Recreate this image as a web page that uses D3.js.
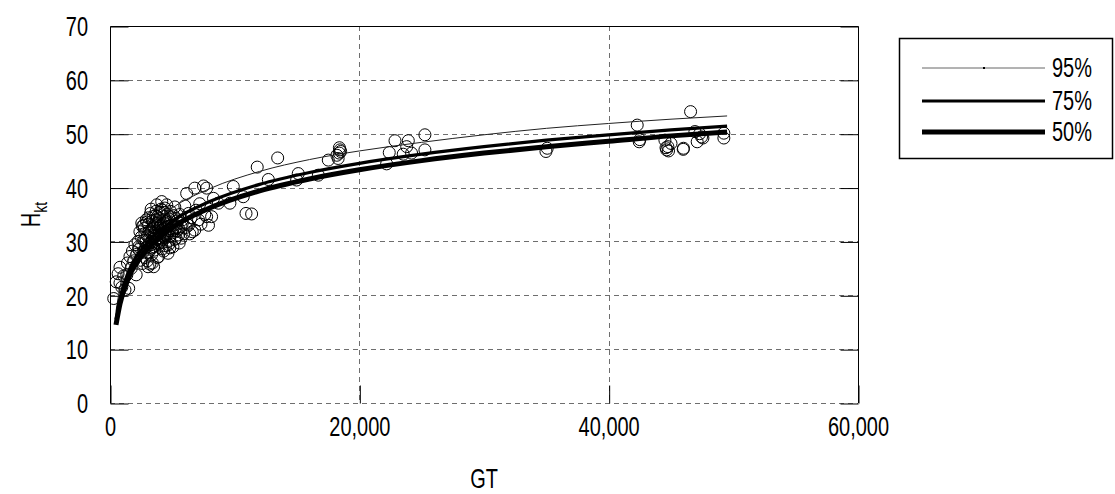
<!DOCTYPE html>
<html><head><meta charset="utf-8">
<script src="https://cdn.jsdelivr.net/npm/d3@7"></script>
<style>body{margin:0;background:#fff}svg{display:block}</style>
</head><body><svg id="c" width="1115" height="494"></svg>
<script>
// ---- data ----
const xTicks = [0, 20000, 40000, 60000];
const yTicks = [0, 10, 20, 30, 40, 50, 60, 70];
const seriesNames = ["95%", "75%", "50%"];
const curveGT = [480, 800, 1500, 3000, 5000, 8000, 12000, 16000, 20000, 25000, 30000, 35000, 40000, 45000, 49500];
const p95 = [17.0, 21.5, 26.8, 32.2, 36.2, 39.8, 43.0, 45.2, 46.8, 48.4, 49.8, 51.0, 51.9, 52.7, 53.3];
const p75 = [15.5, 19.5, 24.5, 29.8, 33.8, 37.4, 40.6, 42.8, 44.5, 46.2, 47.6, 48.8, 49.8, 50.7, 51.4];
const p50 = [14.5, 18.4, 23.3, 28.6, 32.6, 36.2, 39.4, 41.6, 43.3, 45.0, 46.4, 47.6, 48.6, 49.6, 50.3];
const obsGT = [
 300,500,650,800,800,950,1100,1200,1350,1400,1500,1600,1700,1800,1900,2000,2100,2150,2250,2300,2400,2450,2550,2600,
 2700,2750,2850,2900,3000,3050,3100,3150,3250,3300,3350,3400,3450,3500,3550,3600,3650,3700,3750,3800,3850,3900,3950,4000,
 4050,4100,4150,4200,4250,4300,4350,4400,4450,4500,4550,4600,4650,4700,4750,4800,4850,4900,5000,5050,5100,5200,5250,5300,
 5400,5500,5550,5600,5700,5800,5900,6000,6150,6200,6300,6300,6500,6600,6800,6800,6900,7100,7200,7300,7500,7600,7750,7750,
 7900,8150,8300,
 2800,3200,3400,3600,3800,4000,4200,4400,4600,4800,3100,3500,3900,4300,3300,3700,4100,2950,3150,3450,3650,3850,4050,4250,
 4450,4700,5200,5700,2650,3000,3400,3800,3200,
 2300,2500,2700,2900,3100,3300,3500,3700,3900,4100,4300,4500,4700,4900,5100,5300,5500,2600,2800,3000,3200,3400,3600,3800,
 4000,4200,4400,4600,4800,5000,5400,5800,6100,6400,3350,3550,3750,3950,4150,4350,
 8690,9620,9890,10690,10910,11360,11810,12700,13450,14970,15100,16710,17510,18200,18390,18450,18400,18500,18300,
 22190,22400,22860,23520,23930,24190,25260,25260,23800,
 35070,34970,42290,42450,42500,44510,44650,44600,44800,44750,45000,45980,46000,46570,46920,47100,47450,47560,47300,49240,49240
];
const obsH = [
 19.4,22.5,24.0,25.2,22.3,21.5,23.6,21.0,23.8,26.0,21.3,27.2,25.0,28.2,26.4,29.4,23.8,27.6,30.0,28.5,31.8,26.5,33.4,25.9,
 30.2,32.4,28.8,34.0,31.0,25.3,33.2,29.6,35.2,31.8,27.6,33.8,30.4,25.3,32.6,28.4,34.8,31.2,36.8,29.8,33.4,27.2,31.6,35.4,
 30.0,33.0,37.4,28.6,32.2,34.6,30.8,36.2,29.2,33.6,36.8,31.4,27.8,34.2,32.0,30.2,35.6,33.0,31.6,29.0,34.8,36.4,32.4,30.6,
 33.8,31.2,29.7,35.0,32.8,34.0,31.4,36.6,38.9,33.2,35.2,33.0,34.4,31.8,39.9,32.1,35.8,34.0,37.0,33.2,40.3,35.0,39.9,34.6,
 33.0,34.6,38.0,
 31.5,30.8,32.2,30.0,33.0,31.8,30.4,32.6,33.8,31.0,28.0,29.0,29.6,28.2,36.0,35.6,36.0,33.6,32.0,34.6,33.2,31.2,32.8,31.0,
 34.0,29.4,30.4,30.6,28.0,26.4,26.0,27.0,25.8,
 29.0,30.8,33.0,30.2,34.4,29.4,32.8,34.0,32.4,30.6,33.4,31.0,32.8,34.6,33.0,34.2,32.4,32.8,27.0,29.0,31.6,28.8,31.6,34.6,
 30.6,35.8,31.2,35.0,28.8,32.0,32.0,33.4,32.6,31.4,30.0,31.0,30.4,34.2,29.8,35.4,
 37.1,37.1,40.2,38.3,35.2,35.1,43.8,41.5,45.5,41.4,42.6,42.3,45.1,46.0,46.4,47.0,47.4,46.7,45.4,
 44.4,46.5,48.7,46.2,48.7,46.4,49.8,47.0,47.6,
 47.3,46.7,51.6,48.5,48.9,48.8,47.0,47.4,46.8,47.6,48.2,47.1,47.3,54.1,50.4,48.5,49.4,49.2,50.0,50.1,49.2
];

// ---- layout ----
const L = 110, R = 858, T = 26, B = 403;
const FONT = "'Liberation Sans', Arial, sans-serif";
const FS = 27, SX = 0.74;
const svg = d3.select("#c");
const x = d3.scaleLinear().domain([0, 60000]).range([L, R]);
const y = d3.scaleLinear().domain([0, 70]).range([B, T]);

// grid
const grid = svg.append("g").attr("stroke", "#6e6e6e").attr("stroke-width", 1).attr("stroke-dasharray", "5,4").attr("fill", "none");
grid.selectAll("line.h").data(yTicks.filter(d => d < 70)).join("line")
  .attr("x1", L).attr("x2", R).attr("y1", d => Math.round(y(d)) + 0.5).attr("y2", d => Math.round(y(d)) + 0.5);
grid.selectAll("line.v").data(xTicks.filter(d => d > 0 && d < 60000)).join("line")
  .attr("y1", T).attr("y2", B).attr("x1", d => Math.round(x(d)) + 0.5).attr("x2", d => Math.round(x(d)) + 0.5);

// frame
svg.append("path").attr("d", `M${L+0.5},${B}V${T+0.5}H${R+0.5}V${B}`).attr("fill", "none").attr("stroke", "#000").attr("stroke-width", 1);

// inner tick marks
const gl = svg.append("g").attr("transform", `translate(${L+0.5},0.5)`).call(d3.axisLeft(y).tickValues(yTicks).tickSize(-18).tickFormat(""));
const gr = svg.append("g").attr("transform", `translate(${R+0.5},0.5)`).call(d3.axisRight(y).tickValues(yTicks).tickSize(-18).tickFormat(""));
const gb = svg.append("g").attr("transform", `translate(0.5,${B+0.5})`).call(d3.axisBottom(x).tickValues(xTicks).tickSize(-18).tickFormat(""));
[gl, gr, gb].forEach(g => { g.select(".domain").remove(); g.selectAll("line").attr("stroke", "#000"); });

// tick labels
const yl = svg.append("g").attr("transform", `translate(${L},0)`).call(d3.axisLeft(y).tickValues(yTicks).tickSize(0).tickPadding(0));
yl.select(".domain").remove();
yl.selectAll("text").attr("font-family", FONT).attr("font-size", FS).attr("fill", "#000")
  .attr("x", -22 / SX).attr("dy", "0.36em").attr("transform", `scale(${SX},1)`);
const xl = svg.append("g").attr("transform", `translate(0,${B})`).call(d3.axisBottom(x).tickValues(xTicks).tickSize(0).tickFormat(d3.format(",")));
xl.select(".domain").remove();
xl.selectAll("text").attr("font-family", FONT).attr("font-size", FS).attr("fill", "#000")
  .attr("y", 33).attr("dy", 0).attr("transform", `scale(${SX},1)`);

// axis titles
const yt = svg.append("text").attr("font-family", FONT).attr("font-size", FS)
  .attr("transform", `translate(40,${(T + B) / 2}) rotate(-90) scale(${SX},1)`).attr("text-anchor", "middle");
yt.append("tspan").text("H");
yt.append("tspan").attr("font-size", 19).attr("dy", 7).text("kt");
svg.append("text").attr("font-family", FONT).attr("font-size", FS)
  .attr("transform", `translate(${(L + R) / 2},488) scale(${SX},1)`).attr("text-anchor", "middle").text("GT");

// observations
const obs = obsGT.map((g, i) => ({ g, h: obsH[i] }));
svg.append("g").selectAll("circle").data(obs).join("circle")
  .attr("cx", d => x(d.g)).attr("cy", d => y(d.h)).attr("r", 6)
  .attr("fill", "none").attr("stroke", "#000").attr("stroke-width", 1);

// curves
const line = d3.line().x(d => x(d[0])).y(d => y(d[1])).curve(d3.curveMonotoneX);
const curves = [
  { name: seriesNames[0], vals: p95, w: 1, c: "#222" },
  { name: seriesNames[1], vals: p75, w: 3.2, c: "#000" },
  { name: seriesNames[2], vals: p50, w: 5, c: "#000" }
];
svg.append("g").selectAll("path").data(curves).join("path")
  .attr("d", d => line(curveGT.map((g, i) => [g, d.vals[i]])))
  .attr("fill", "none").attr("stroke", d => d.c).attr("stroke-width", d => d.w);

// legend
const lg = svg.append("g");
lg.append("rect").attr("x", 899.5).attr("y", 38.5).attr("width", 213).attr("height", 120)
  .attr("fill", "#fff").attr("stroke", "#000").attr("stroke-width", 1.5);
const ly = [68, 101, 132];
curves.forEach((c, i) => {
  lg.append("line").attr("x1", 922).attr("x2", 1045).attr("y1", ly[i]).attr("y2", ly[i])
    .attr("stroke", i === 0 ? "#666" : "#000").attr("stroke-width", c.w);
  lg.append("text").attr("font-family", FONT).attr("font-size", FS)
    .attr("transform", `translate(1052,${ly[i] + 9}) scale(${SX},1)`).text(c.name);
});
lg.append("rect").attr("x", 983).attr("y", 67).attr("width", 2).attr("height", 2).attr("fill", "#000");
</script></body></html>
